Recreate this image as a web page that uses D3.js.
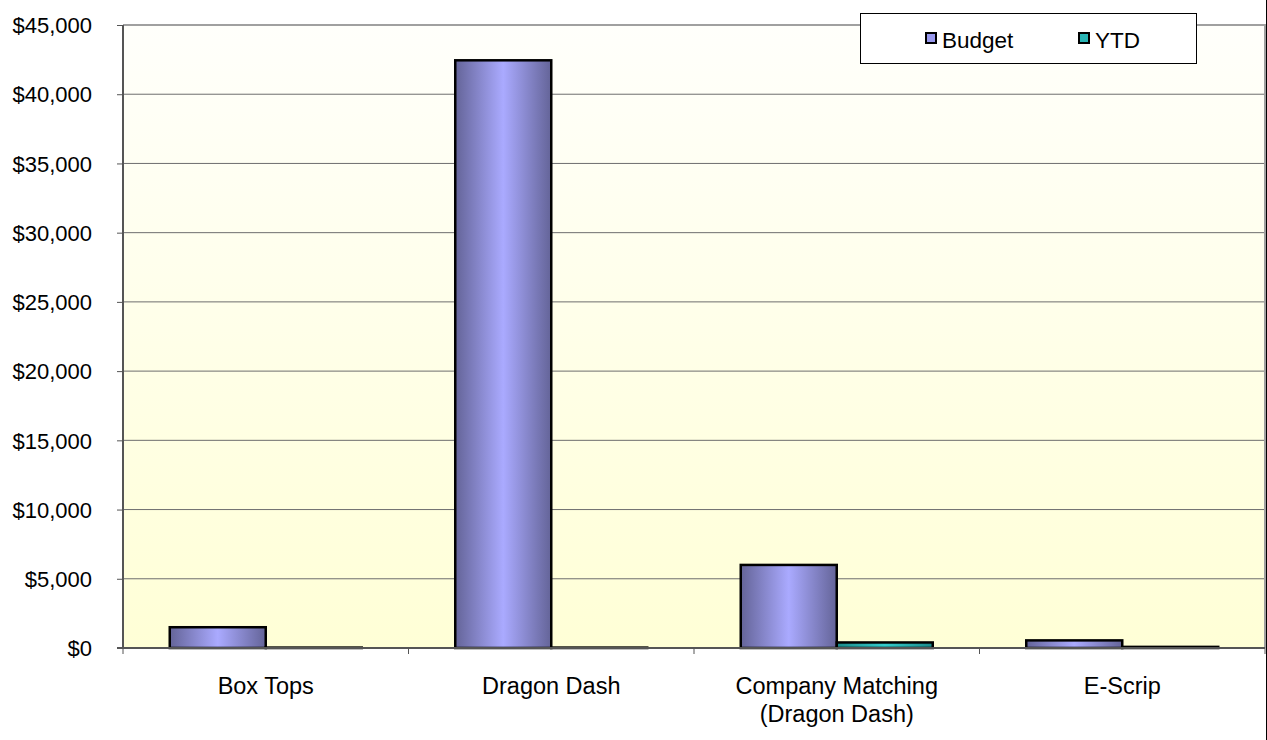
<!DOCTYPE html>
<html><head><meta charset="utf-8">
<script src="https://cdn.jsdelivr.net/npm/d3@7"></script>
<style>html,body{margin:0;padding:0;background:#fff;overflow:hidden}svg{display:block;font-family:"Liberation Sans",Arial,sans-serif}</style>
</head><body>
<svg id="c" width="1267" height="740"></svg>
<script>
const categories = [["Box Tops"], ["Dragon Dash"], ["Company Matching", "(Dragon Dash)"], ["E-Scrip"]];
const budget = [1500, 42450, 6000, 550];
const ytd = [30, 30, 400, 80];
const seriesNames = ["Budget", "YTD"];
const yTicks = [0, 5000, 10000, 15000, 20000, 25000, 30000, 35000, 40000, 45000];

const svg = d3.select("#c");
const m = {l: 123, t: 25, r: 1265, b: 648};
const defs = svg.append("defs");
const bg = defs.append("linearGradient").attr("id","bg").attr("x1",0).attr("y1",0).attr("x2",0).attr("y2",1);
bg.append("stop").attr("offset","0%").attr("stop-color","#fffffb");
bg.append("stop").attr("offset","100%").attr("stop-color","#ffffd6");
function barGrad(id, edge, mid){
  const g = defs.append("linearGradient").attr("id",id).attr("x1",0).attr("y1",0).attr("x2",1).attr("y2",0);
  g.append("stop").attr("offset","0%").attr("stop-color",edge);
  g.append("stop").attr("offset","50%").attr("stop-color",mid);
  g.append("stop").attr("offset","100%").attr("stop-color",edge);
}
barGrad("gB","#646498","#aaaaff");
barGrad("gY","#1a8a8a","#33cccc");

const x = d3.scaleBand().domain(d3.range(categories.length)).range([m.l, m.r]);
const x1 = d3.scaleBand().domain([0,1]).range([0, x.bandwidth()]).paddingOuter(0.487).paddingInner(0);
const y = d3.scaleLinear().domain([0, 45000]).range([m.b, m.t]);

svg.append("rect").attr("x",m.l).attr("y",m.t).attr("width",m.r-m.l).attr("height",m.b-m.t).attr("fill","url(#bg)");

// gridlines
svg.append("g").selectAll("line").data(yTicks.slice(1)).join("line")
  .attr("x1",m.l).attr("x2",m.r).attr("y1",d=>y(d)).attr("y2",d=>y(d))
  .attr("stroke", d=> d===45000 ? "#a0a0a0" : "#6e6e6e").attr("stroke-width", d=> d===45000 ? 2 : 1);
// right border
svg.append("line").attr("x1",m.r).attr("x2",m.r).attr("y1",m.t-1).attr("y2",m.b).attr("stroke","#a0a0a0").attr("stroke-width",2);
svg.append("line").attr("x1",1266.5).attr("x2",1266.5).attr("y1",0).attr("y2",740).attr("stroke","#000").attr("stroke-width",1);

// bars
const series = [budget, ytd];
const fills = ["url(#gB)","url(#gY)"];
series.forEach((vals, s) => {
  svg.append("g").selectAll("rect").data(vals).join("rect")
    .attr("x", (d,i)=> x(i) + x1(s))
    .attr("y", d=> y(d))
    .attr("width", x1.bandwidth())
    .attr("height", d=> Math.max(0, y(0)-y(d)))
    .attr("fill", fills[s]).attr("stroke","#000").attr("stroke-width",2.5);
});

// y axis
const ya = svg.append("g").attr("transform",`translate(${m.l},0)`)
  .call(d3.axisLeft(y).tickValues(yTicks).tickSize(6).tickFormat(d=>"$"+d3.format(",")(d)));
ya.attr("font-size",null).attr("font-family",null);
ya.select(".domain").attr("stroke","#555").attr("stroke-width",2).attr("d",`M-0,${m.t}V${m.b}`);
ya.selectAll(".tick line").attr("stroke","#555");
ya.selectAll(".tick text").style("font-size","22px").attr("fill","#000").attr("x",-31).attr("dy","0.35em");

// x axis
const xa = svg.append("g").attr("transform",`translate(0,${m.b})`);
xa.append("line").attr("x1",m.l-6).attr("x2",m.r).attr("y1",0).attr("y2",0).attr("stroke","#555").attr("stroke-width",2);
const bounds = d3.range(categories.length+1).map(i=> i<categories.length ? x(i) : m.r);
xa.selectAll("line.t").data(bounds).join("line").attr("class","t")
  .attr("x1",d=>d).attr("x2",d=>d).attr("y1",0).attr("y2",6).attr("stroke","#555");
categories.forEach((lines,i)=>{
  const t = xa.append("text").attr("text-anchor","middle").style("font-size","23.5px").attr("fill","#000")
    .attr("x", x(i)+x.bandwidth()/2).attr("y", 46);
  lines.forEach((ln,k)=> t.append("tspan").attr("x", x(i)+x.bandwidth()/2).attr("dy", k===0?0:28).text(ln));
});

// legend
const lg = svg.append("g");
lg.append("rect").attr("x",860.5).attr("y",13.5).attr("width",336).attr("height",50).attr("fill","#fff").attr("stroke","#000").attr("stroke-width",1);
const legItems = [{n:seriesNames[0], f:"#9999ee", x:926},{n:seriesNames[1], f:"#29b5b5", x:1079}];
legItems.forEach(it=>{
  lg.append("rect").attr("x",it.x).attr("y",33).attr("width",10).attr("height",10).attr("fill",it.f).attr("stroke","#000").attr("stroke-width",2);
  lg.append("text").attr("x",it.x+16).attr("y",48).style("font-size","22.5px").attr("fill","#000").text(it.n);
});
</script>
</body></html>
